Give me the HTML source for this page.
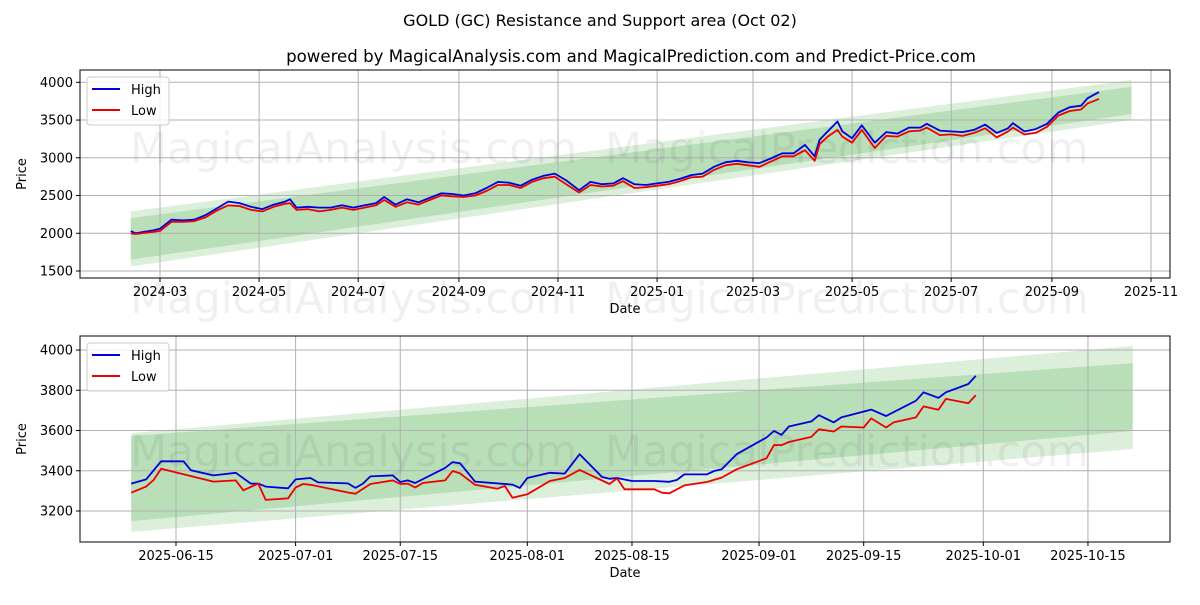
<!DOCTYPE html>
<html><head><meta charset="utf-8"><style>
body{margin:0;background:#fff;font-family:"Liberation Sans","DejaVu Sans",sans-serif;}
svg text{font-family:"DejaVu Sans","Liberation Sans",sans-serif;}
</style></head><body>
<svg id="c" width="1200" height="600" xmlns="http://www.w3.org/2000/svg">
<text x="600" y="26" text-anchor="middle" font-size="16">GOLD (GC) Resistance and Support area (Oct 02)</text>
<text x="631" y="62" text-anchor="middle" font-size="16.6">powered by MagicalAnalysis.com and MagicalPrediction.com and Predict-Price.com</text>
</svg>
<script>
// ---- top chart data ----
const topHighDates=["2024-02-12","2024-02-15","2024-02-26","2024-03-01","2024-03-08","2024-03-15","2024-03-22","2024-03-29","2024-04-05","2024-04-12","2024-04-19","2024-04-26","2024-05-03","2024-05-10","2024-05-17","2024-05-20","2024-05-24","2024-05-31","2024-06-07","2024-06-14","2024-06-21","2024-06-28","2024-07-05","2024-07-12","2024-07-17","2024-07-24","2024-07-31","2024-08-07","2024-08-14","2024-08-21","2024-08-28","2024-09-04","2024-09-11","2024-09-18","2024-09-25","2024-10-02","2024-10-09","2024-10-16","2024-10-23","2024-10-30","2024-11-06","2024-11-14","2024-11-21","2024-11-28","2024-12-05","2024-12-11","2024-12-18","2024-12-25","2025-01-01","2025-01-08","2025-01-15","2025-01-22","2025-01-29","2025-02-05","2025-02-12","2025-02-19","2025-02-26","2025-03-05","2025-03-12","2025-03-19","2025-03-26","2025-04-02","2025-04-08","2025-04-11","2025-04-16","2025-04-22","2025-04-25","2025-05-01","2025-05-07","2025-05-15","2025-05-22","2025-05-29","2025-06-05","2025-06-12","2025-06-16","2025-06-24","2025-07-01","2025-07-08","2025-07-15","2025-07-22","2025-07-29","2025-08-05","2025-08-08","2025-08-15","2025-08-22","2025-08-29","2025-09-05","2025-09-12","2025-09-19","2025-09-23","2025-09-30"];
const topHigh=[2030,2000,2040,2060,2180,2170,2180,2240,2330,2420,2400,2350,2320,2380,2420,2450,2340,2350,2340,2340,2370,2340,2370,2400,2480,2380,2450,2410,2470,2530,2520,2500,2530,2600,2680,2670,2630,2710,2760,2790,2700,2570,2680,2650,2660,2730,2650,2640,2660,2680,2720,2770,2790,2880,2940,2960,2940,2930,2990,3060,3060,3170,3020,3240,3350,3480,3350,3260,3430,3200,3340,3320,3400,3400,3450,3360,3350,3340,3370,3440,3330,3390,3460,3350,3380,3450,3600,3670,3690,3790,3870];
const topLow=[2000,1990,2020,2030,2150,2150,2160,2210,2300,2370,2360,2310,2290,2350,2390,2400,2310,2320,2290,2310,2340,2310,2340,2370,2440,2350,2410,2380,2440,2500,2490,2480,2500,2560,2640,2640,2600,2680,2730,2750,2650,2540,2640,2620,2630,2690,2600,2610,2630,2650,2690,2740,2750,2840,2900,2920,2900,2880,2950,3020,3020,3100,2960,3180,3280,3370,3280,3200,3370,3130,3290,3280,3350,3360,3400,3300,3310,3290,3330,3390,3270,3350,3400,3310,3330,3410,3560,3620,3640,3720,3780];
const topBandDates=["2024-02-12","2025-10-20"];
const topOuterTop=[2290,4030], topOuterBot=[1560,3500];
const topInnerTop=[2200,3940], topInnerBot=[1650,3580];
const topYTicks=[1500,2000,2500,3000,3500,4000];
const topXTicks=["2024-03","2024-05","2024-07","2024-09","2024-11","2025-01","2025-03","2025-05","2025-07","2025-09","2025-11"];
// ---- bottom chart data ----
const botHighDates=["2025-06-09","2025-06-11","2025-06-13","2025-06-16","2025-06-17","2025-06-20","2025-06-23","2025-06-25","2025-06-26","2025-06-27","2025-06-30","2025-07-01","2025-07-03","2025-07-04","2025-07-08","2025-07-09","2025-07-10","2025-07-11","2025-07-14","2025-07-15","2025-07-16","2025-07-17","2025-07-21","2025-07-22","2025-07-23","2025-07-25","2025-07-30","2025-07-31","2025-08-01","2025-08-04","2025-08-06","2025-08-08","2025-08-11","2025-08-12","2025-08-13","2025-08-15","2025-08-18","2025-08-20","2025-08-21","2025-08-22","2025-08-25","2025-08-26","2025-08-27","2025-08-29","2025-09-02","2025-09-03","2025-09-04","2025-09-05","2025-09-08","2025-09-09","2025-09-11","2025-09-12","2025-09-16","2025-09-18","2025-09-22","2025-09-23","2025-09-25","2025-09-26","2025-09-29","2025-09-30"];
const botHigh=[3336,3357,3447,3447,3402,3377,3390,3336,3336,3321,3313,3357,3364,3342,3337,3315,3336,3372,3377,3344,3352,3339,3414,3443,3437,3346,3331,3315,3364,3390,3386,3482,3369,3360,3364,3349,3349,3345,3354,3382,3382,3399,3407,3482,3565,3598,3578,3620,3645,3676,3640,3665,3704,3672,3748,3790,3762,3790,3831,3872];
const botLowDates=["2025-06-09","2025-06-11","2025-06-12","2025-06-13","2025-06-20","2025-06-23","2025-06-24","2025-06-26","2025-06-27","2025-06-30","2025-07-01","2025-07-02","2025-07-03","2025-07-08","2025-07-09","2025-07-11","2025-07-14","2025-07-15","2025-07-16","2025-07-17","2025-07-18","2025-07-21","2025-07-22","2025-07-23","2025-07-25","2025-07-28","2025-07-29","2025-07-30","2025-08-01","2025-08-04","2025-08-06","2025-08-08","2025-08-12","2025-08-13","2025-08-14","2025-08-18","2025-08-19","2025-08-20","2025-08-22","2025-08-25","2025-08-27","2025-08-29","2025-09-02","2025-09-03","2025-09-04","2025-09-05","2025-09-08","2025-09-09","2025-09-11","2025-09-12","2025-09-15","2025-09-16","2025-09-18","2025-09-19","2025-09-22","2025-09-23","2025-09-25","2025-09-26","2025-09-29","2025-09-30"];
const botLow=[3291,3321,3354,3410,3346,3352,3303,3336,3255,3263,3317,3334,3330,3292,3286,3334,3352,3334,3336,3317,3339,3352,3399,3387,3330,3311,3324,3266,3283,3349,3364,3404,3334,3362,3308,3308,3291,3288,3327,3344,3366,3407,3462,3528,3527,3543,3568,3606,3595,3620,3615,3660,3615,3640,3665,3720,3703,3757,3735,3776];
const botBandDates=["2025-06-09","2025-10-21"];
const botOuterTop=[3587,4020], botOuterBot=[3096,3508];
const botInnerTop=[3573,3935], botInnerBot=[3150,3598];
const botYTicks=[3200,3400,3600,3800,4000];
const botXTicks=["2025-06-15","2025-07-01","2025-07-15","2025-08-01","2025-08-15","2025-09-01","2025-09-15","2025-10-01","2025-10-15"];

const NS="http://www.w3.org/2000/svg";
const svg=document.getElementById('c');
function mk(tag,attrs,parent){const e=document.createElementNS(NS,tag);for(const k in attrs)e.setAttribute(k,attrs[k]);(parent||svg).appendChild(e);return e;}
function day(s){const p=s.split('-').map(Number);return Date.UTC(p[0],p[1]-1,p[2]||1)/86400000;}

function drawChart(cfg){
  const g=mk('g',{});
  
  
  const L=80,R=1170,T=cfg.top,B=cfg.bottom;
  const xs=d=>cfg.x0+(day(d)-day(cfg.d0))*cfg.pxd;
  const ys=v=>cfg.yA+(v-cfg.vA)*(cfg.yB-cfg.yA)/(cfg.vB-cfg.vA);
  function band(topArr,botArr,op,nm){
    const x1=xs(cfg.bandDates[0]),x2=xs(cfg.bandDates[1]);
    const p=mk('polygon',{points:`${x1},${ys(topArr[0])} ${x2},${ys(topArr[1])} ${x2},${ys(botArr[1])} ${x1},${ys(botArr[0])}`,fill:'#2ca02c','fill-opacity':op},g);
    
    
  }
  band(cfg.outerTop,cfg.outerBot,0.17,'outer-band');
  band(cfg.innerTop,cfg.innerBot,0.2,'inner-band');
  cfg.yTicks.forEach(v=>{const y=ys(v);
    const l=mk('line',{x1:L,x2:R,y1:y,y2:y,stroke:'#b0b0b0','stroke-width':1},g);
    
    mk('line',{x1:L-4,x2:L,y1:y,y2:y,stroke:'#000'},g);
    const t=mk('text',{x:L-7,y:y+4.5,'text-anchor':'end','font-size':13},g);t.textContent=v;
    
  });
  cfg.xTicks.forEach(d=>{const x=xs(d);
    const l=mk('line',{x1:x,x2:x,y1:T,y2:B,stroke:'#b0b0b0','stroke-width':1},g);
    
    mk('line',{x1:x,x2:x,y1:B,y2:B+4,stroke:'#000'},g);
    const t=mk('text',{x:x,y:B+18,'text-anchor':'middle','font-size':13},g);t.textContent=d;
    
  });
  [[130,cfg.wm1],[605,cfg.wm1]].forEach((p,i)=>{
    const t=mk('text',{x:p[0],y:p[1],'font-size':43,fill:'#000','fill-opacity':0.06},g);
    t.textContent=i?'MagicalPrediction.com':'MagicalAnalysis.com';
    
  });
  function line(dates,vals,col,nm){
    const pts=dates.map((d,i)=>xs(d).toFixed(1)+','+ys(vals[i]).toFixed(1)).join(' ');
    const p=mk('polyline',{points:pts,fill:'none',stroke:col,'stroke-width':1.8,'stroke-linejoin':'round'},g);
    
  }
  line(cfg.hd,cfg.hv,'#0000dd','high-line');
  line(cfg.ld,cfg.lv,'#ee0000','low-line');
  const f=mk('rect',{x:L,y:T,width:R-L,height:B-T,fill:'none',stroke:'#000','stroke-width':1},g);
  
  const xl=mk('text',{x:(L+R)/2,y:B+35,'text-anchor':'middle','font-size':13},g);xl.textContent='Date';
  
  const yl=mk('text',{x:0,y:0,'text-anchor':'middle','font-size':13,transform:`translate(26,${(T+B)/2}) rotate(-90)`},g);yl.textContent='Price';
  
  const lg=mk('g',{},g);
  
  mk('rect',{x:87,y:T+7,width:82,height:48,rx:3,fill:'#fff','fill-opacity':0.8,stroke:'#ccc'},lg);
  [['High','#0000dd',0],['Low','#ee0000',21]].forEach(e=>{
    mk('line',{x1:92,x2:120,y1:T+19+e[2],y2:T+19+e[2],stroke:e[1],'stroke-width':2},lg);
    const t=mk('text',{x:131,y:T+24+e[2],'font-size':13},lg);t.textContent=e[0];
    
  });
}
drawChart({name:'top-chart',top:70,bottom:278,d0:'2024-03-01',x0:160,pxd:1.6246,vA:1500,yA:271,vB:4000,yB:82.3,
  bandDates:topBandDates,outerTop:topOuterTop,outerBot:topOuterBot,innerTop:topInnerTop,innerBot:topInnerBot,
  yTicks:topYTicks,xTicks:topXTicks,hd:topHighDates,hv:topHigh,ld:topHighDates,lv:topLow,wm1:163});
drawChart({name:'bottom-chart',top:336,bottom:542,d0:'2025-06-15',x0:176,pxd:7.475,vA:3200,yA:511,vB:4000,yB:350,
  bandDates:botBandDates,outerTop:botOuterTop,outerBot:botOuterBot,innerTop:botInnerTop,innerBot:botInnerBot,
  yTicks:botYTicks,xTicks:botXTicks,hd:botHighDates,hv:botHigh,ld:botLowDates,lv:botLow,wm1:466});
const wm=mk('g',{});


[[130,'MagicalAnalysis.com'],[605,'MagicalPrediction.com']].forEach(p=>{const t=mk('text',{x:p[0],y:313,'font-size':43,fill:'#000','fill-opacity':0.06},wm);t.textContent=p[1];});
</script>
</body></html>
